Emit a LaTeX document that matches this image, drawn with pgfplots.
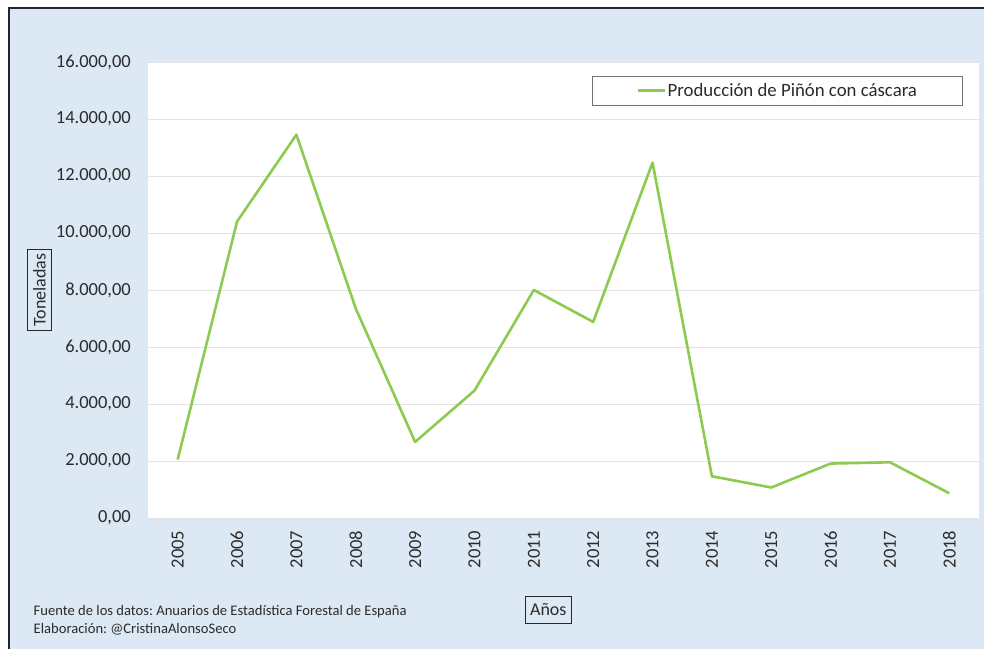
\documentclass[border=0pt]{standalone}
\usepackage{pgfplots}
\pgfplotsset{compat=1.18}
\usepackage{fontspec}
\setmainfont{Carlito}
\frenchspacing
\definecolor{bgblue}{HTML}{DDE8F5}
\definecolor{linegreen}{HTML}{8DCB50}
\definecolor{gridgray}{HTML}{E3E3E3}
\definecolor{txt}{HTML}{2B2B2B}
\begin{document}
\begin{tikzpicture}
\useasboundingbox (0,0) rectangle (984pt,649pt);
\fill[white] (0,0) rectangle (984pt,649pt);
\fill[bgblue] (9pt,0) rectangle (984pt,641pt);
\draw[black!85, line width=2pt, line join=miter] (9pt,0) -- (9pt,641pt) -- (984pt,641pt);
\begin{axis}[
  at={(148pt,131pt)}, anchor=south west,
  scale only axis, width=831pt, height=456pt,
  xmin=2004.5, xmax=2018.5,
  ymin=0, ymax=16000,
  xtick={2005,2006,2007,2008,2009,2010,2011,2012,2013,2014,2015,2016,2017,2018},
  xticklabels={2005,2006,2007,2008,2009,2010,2011,2012,2013,2014,2015,2016,2017,2018},
  ytick={0,2000,4000,6000,8000,10000,12000,14000,16000},
  scaled y ticks=false,
  axis line style={draw=none},
  major tick length=0pt,
  ymajorgrids,
  grid style={gridgray, line width=1pt},
  axis background/.style={fill=white},
  /pgf/number format/assume math mode=true,
  yticklabel style={/pgf/number format/.cd, fixed, fixed zerofill, precision=2, use comma, 1000 sep={.}, /tikz/.cd,
    font=\fontsize{18.5}{22}\selectfont, text=txt, anchor=east, inner sep=0pt, xshift=-17pt},
  xticklabel style={font=\fontsize{18.5}{22}\selectfont, text=txt, rotate=90, anchor=east, inner ysep=0pt, inner xsep=12.5pt},
  ylabel={Toneladas},
  ylabel style={font=\fontsize{18}{22}\selectfont, text=txt, draw=black!85, line width=1pt,
    at={(axis description cs:-0.1306,0.5)}, anchor=center, inner xsep=4pt, inner ysep=6pt},
  xlabel={Años},
  xlabel style={font=\fontsize{18}{22}\selectfont, text=txt, draw=black!85, line width=1pt,
    at={(axis description cs:0.4817,-0.2018)}, anchor=center, inner xsep=4.5pt, inner ysep=7.5pt},
  legend style={at={(1,1)}, anchor=north east, xshift=-16pt, yshift=-14pt,
    draw=black!55, line width=1pt, fill=white,
    font=\fontsize{18.8}{22}\selectfont, text=txt,
    inner xsep=44pt, inner ysep=3pt,
    nodes={inner xsep=1.5pt, inner ysep=4pt}},
  legend image code/.code={\draw[#1] (0pt,0pt) -- (27pt,0pt);},
]
\addplot[linegreen, line width=2.6pt, line join=round] coordinates {
(2005,2050) (2006,10400) (2007,13450) (2008,7350) (2009,2670)
(2010,4470) (2011,8000) (2012,6880) (2013,12470) (2014,1465)
(2015,1070) (2016,1910) (2017,1955) (2018,867)
};
\addlegendentry{Producción de Piñón con cáscara}
\end{axis}
\node[anchor=base west, inner sep=0pt, text=txt, font=\fontsize{14.6}{18}\selectfont]
  at (33.5pt,34pt) {Fuente de los datos: Anuarios de Estadística Forestal de España};
\node[anchor=base west, inner sep=0pt, text=txt, font=\fontsize{14.6}{18}\selectfont]
  at (33.5pt,15.7pt) {Elaboración: @CristinaAlonsoSeco};
\end{tikzpicture}
\end{document}
